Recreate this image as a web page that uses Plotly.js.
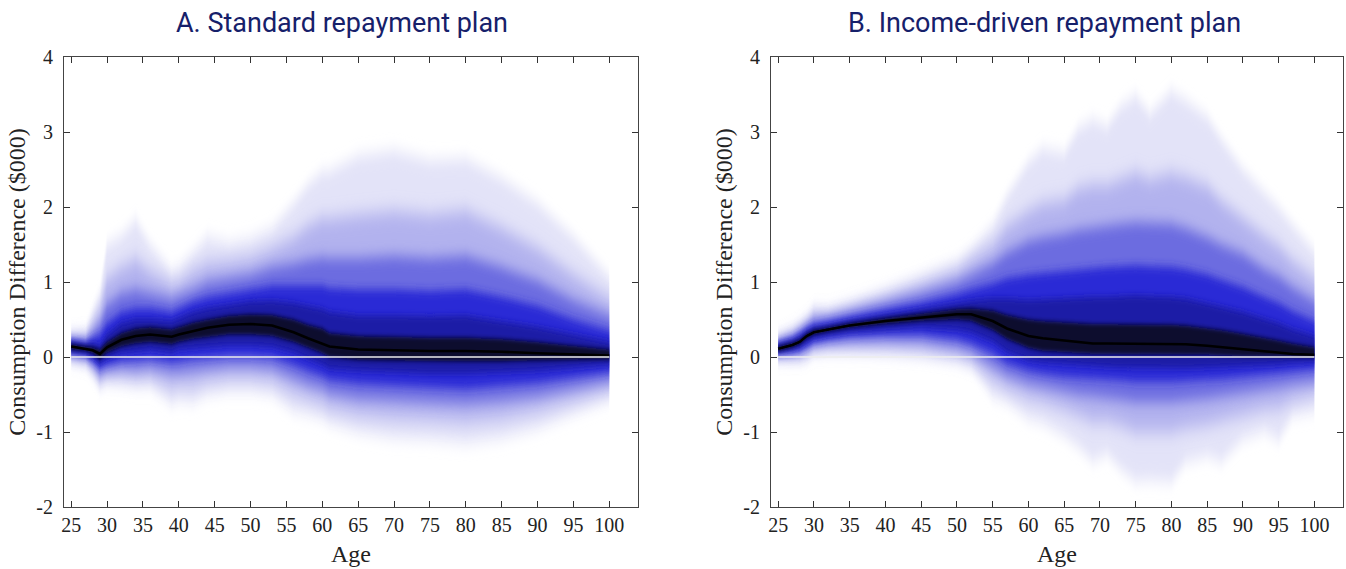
<!DOCTYPE html>
<html>
<head>
<meta charset="utf-8">
<script src="https://cdn.plot.ly/plotly-3.0.1.min.js"></script>
<style>
  html, body { margin: 0; padding: 0; background: #fff; }
  #chart { width: 1346px; height: 569px; }
</style>
</head>
<body>
<svg width="0" height="0" style="position:absolute">
  <defs>
    <filter id="vb0" x="-2%" y="-80%" width="104%" height="260%"><feGaussianBlur stdDeviation="0 2"/></filter>
    <filter id="vb1" x="-2%" y="-80%" width="104%" height="260%"><feGaussianBlur stdDeviation="0 3"/></filter>
    <filter id="vb2" x="-2%" y="-80%" width="104%" height="260%"><feGaussianBlur stdDeviation="0 4.5"/></filter>
    <filter id="vb3" x="-2%" y="-80%" width="104%" height="260%"><feGaussianBlur stdDeviation="0 7"/></filter>
    <filter id="vb4" x="-2%" y="-80%" width="104%" height="260%"><feGaussianBlur stdDeviation="0 9"/></filter>
    <filter id="vb5" x="-2%" y="-80%" width="104%" height="260%"><feGaussianBlur stdDeviation="0 8"/></filter>
  </defs>
</svg>
<div id="chart"></div>
<script>
// ---------- Panel A: Standard repayment plan ----------
const agesA = [25,27,28,29,30,32,34,36,39,40,42,44,47,50,53,56,58,60,61,65,70,75,80,85,90,95,100];
const medA  = [0.14,0.11,0.09,0.04,0.13,0.23,0.28,0.30,0.27,0.30,0.35,0.39,0.43,0.44,0.42,0.33,0.25,0.18,0.14,0.10,0.09,0.08,0.08,0.07,0.05,0.03,0.02];
const upA1  = [0.17,0.14,0.13,0.10,0.20,0.32,0.38,0.40,0.37,0.40,0.46,0.50,0.55,0.57,0.56,0.50,0.43,0.38,0.32,0.28,0.27,0.26,0.26,0.24,0.20,0.15,0.10];
const upA2  = [0.20,0.17,0.18,0.16,0.30,0.45,0.50,0.50,0.48,0.52,0.60,0.65,0.70,0.74,0.75,0.72,0.68,0.64,0.60,0.55,0.55,0.54,0.55,0.48,0.40,0.30,0.20];
const upA3  = [0.22,0.19,0.25,0.30,0.45,0.60,0.65,0.65,0.60,0.65,0.74,0.80,0.85,0.90,0.95,0.95,0.95,0.95,0.92,0.90,0.90,0.88,0.90,0.80,0.68,0.50,0.35];
const upA4  = [0.23,0.22,0.33,0.45,0.70,0.85,0.90,0.85,0.78,0.82,0.90,1.00,1.05,1.10,1.20,1.25,1.30,1.33,1.32,1.32,1.35,1.32,1.35,1.20,1.02,0.76,0.55];
const upA5  = [0.24,0.26,0.45,0.65,1.05,1.20,1.30,1.15,0.98,1.00,1.15,1.25,1.28,1.33,1.45,1.60,1.75,1.85,1.85,1.90,1.95,1.90,1.95,1.72,1.45,1.10,0.78];
const upA6  = [0.25,0.30,0.60,0.85,1.50,1.62,1.82,1.50,1.15,1.20,1.40,1.60,1.52,1.58,1.72,2.05,2.30,2.47,2.48,2.68,2.75,2.62,2.64,2.38,2.05,1.60,1.07];
const loA1  = [0.10,0.08,0.05,-0.02,0.06,0.14,0.18,0.20,0.17,0.20,0.24,0.27,0.30,0.30,0.28,0.20,0.12,0.05,0.00,-0.04,-0.05,-0.06,-0.06,-0.06,-0.05,-0.04,-0.03];
const loA2  = [0.07,0.05,0.00,-0.08,-0.02,0.05,0.08,0.10,0.06,0.10,0.12,0.14,0.16,0.16,0.14,0.06,-0.02,-0.10,-0.15,-0.18,-0.20,-0.22,-0.22,-0.20,-0.18,-0.14,-0.10];
const loA3  = [0.05,0.02,-0.05,-0.14,-0.10,-0.05,-0.04,-0.02,-0.06,-0.05,-0.02,0.00,0.02,0.02,0.00,-0.10,-0.18,-0.25,-0.30,-0.35,-0.38,-0.40,-0.42,-0.38,-0.34,-0.27,-0.20];
const loA4  = [0.03,0.00,-0.10,-0.22,-0.18,-0.15,-0.16,-0.14,-0.20,-0.20,-0.18,-0.15,-0.12,-0.12,-0.15,-0.28,-0.36,-0.42,-0.48,-0.55,-0.58,-0.60,-0.62,-0.58,-0.52,-0.42,-0.32];
const loA5  = [0.02,-0.03,-0.15,-0.30,-0.25,-0.25,-0.28,-0.27,-0.40,-0.38,-0.38,-0.32,-0.28,-0.28,-0.32,-0.48,-0.55,-0.62,-0.68,-0.77,-0.82,-0.84,-0.87,-0.82,-0.72,-0.58,-0.44];
const loA6  = [0.01,-0.06,-0.20,-0.37,-0.32,-0.35,-0.38,-0.38,-0.62,-0.58,-0.60,-0.50,-0.45,-0.45,-0.50,-0.72,-0.76,-0.82,-0.88,-1.00,-1.08,-1.10,-1.15,-1.08,-0.95,-0.75,-0.56];

// ---------- Panel B: Income-driven repayment plan ----------
const agesB = [25,27,28,29,30,32,35,40,45,50,52,55,57,60,62,65,67,69,71,73,75,77,80,82,85,87,90,93,95,97,100];
const medB  = [0.11,0.16,0.20,0.28,0.33,0.37,0.42,0.48,0.53,0.57,0.57,0.48,0.38,0.28,0.25,0.22,0.20,0.18,0.18,0.18,0.17,0.18,0.17,0.17,0.15,0.13,0.10,0.08,0.06,0.04,0.03];
const upB1  = [0.14,0.19,0.23,0.31,0.36,0.40,0.45,0.52,0.58,0.64,0.65,0.62,0.56,0.50,0.48,0.46,0.45,0.44,0.44,0.44,0.44,0.44,0.43,0.42,0.39,0.36,0.31,0.26,0.22,0.18,0.13];
const upB2  = [0.17,0.22,0.27,0.34,0.39,0.42,0.48,0.56,0.64,0.72,0.75,0.78,0.78,0.76,0.77,0.78,0.79,0.80,0.80,0.81,0.82,0.81,0.80,0.78,0.72,0.67,0.60,0.51,0.45,0.37,0.28];
const upB3  = [0.19,0.25,0.31,0.38,0.43,0.47,0.54,0.63,0.72,0.84,0.90,0.98,1.05,1.10,1.12,1.15,1.17,1.19,1.20,1.21,1.22,1.21,1.20,1.17,1.10,1.03,0.93,0.80,0.72,0.61,0.48];
const upB4  = [0.20,0.28,0.35,0.43,0.50,0.53,0.60,0.72,0.85,1.00,1.10,1.25,1.40,1.55,1.60,1.65,1.70,1.73,1.75,1.78,1.80,1.79,1.78,1.72,1.60,1.50,1.38,1.18,1.08,0.93,0.75];
const upB5  = [0.21,0.30,0.37,0.45,0.56,0.56,0.65,0.80,0.97,1.15,1.30,1.50,1.75,1.95,2.05,2.10,2.25,2.30,2.30,2.38,2.45,2.38,2.45,2.40,2.28,2.08,1.85,1.62,1.48,1.28,1.05];
const upB6  = [0.22,0.31,0.38,0.47,0.62,0.58,0.67,0.87,1.07,1.27,1.44,1.76,2.15,2.60,2.78,2.72,3.05,3.16,3.08,3.35,3.48,3.25,3.54,3.42,3.20,2.90,2.50,2.20,1.99,1.75,1.41];
const loB1  = [0.08,0.13,0.17,0.25,0.30,0.34,0.39,0.44,0.48,0.50,0.48,0.36,0.24,0.12,0.08,0.06,0.05,0.04,0.04,0.04,0.03,0.04,0.03,0.03,0.03,0.02,0.01,0.01,0.00,0.00,0.00];
const loB2  = [0.06,0.10,0.13,0.19,0.25,0.29,0.33,0.37,0.40,0.37,0.33,0.21,0.07,-0.04,-0.07,-0.09,-0.11,-0.12,-0.13,-0.14,-0.15,-0.15,-0.15,-0.15,-0.14,-0.13,-0.12,-0.11,-0.10,-0.08,-0.07];
const loB3  = [0.05,0.07,0.09,0.14,0.20,0.24,0.28,0.30,0.30,0.24,0.18,0.05,-0.08,-0.18,-0.22,-0.26,-0.28,-0.29,-0.30,-0.31,-0.33,-0.33,-0.33,-0.32,-0.30,-0.29,-0.27,-0.24,-0.22,-0.19,-0.16];
const loB4  = [0.04,0.05,0.06,0.10,0.16,0.19,0.21,0.22,0.21,0.13,0.07,-0.12,-0.24,-0.35,-0.40,-0.46,-0.50,-0.52,-0.54,-0.57,-0.60,-0.60,-0.60,-0.58,-0.55,-0.52,-0.48,-0.43,-0.40,-0.36,-0.32];
const loB5  = [0.03,0.03,0.03,0.06,0.12,0.14,0.14,0.13,0.10,0.02,-0.05,-0.30,-0.42,-0.55,-0.60,-0.70,-0.78,-0.86,-0.86,-0.92,-1.00,-1.00,-1.00,-0.95,-0.90,-0.85,-0.78,-0.70,-0.68,-0.58,-0.50];
const loB6  = [0.02,0.00,0.00,0.02,0.10,0.11,0.10,0.08,0.04,-0.02,-0.10,-0.52,-0.60,-0.82,-0.88,-1.05,-1.20,-1.38,-1.30,-1.50,-1.65,-1.64,-1.66,-1.40,-1.32,-1.39,-1.10,-0.99,-1.10,-0.78,-0.72];

// ---------- Axes / labels ----------
const xTickVals = [25,30,35,40,45,50,55,60,65,70,75,80,85,90,95,100];
const yTickVals = [-2,-1,0,1,2,3,4];
const yTickText = ['-2','-1','0','1','2','3','4'];
const panelTitles = ['A. Standard repayment plan', 'B. Income-driven repayment plan'];
const xTitle = 'Age';
const yTitle = 'Consumption Difference ($000)';

// band colours, inner (near median) -> outer (faint edge)
const bandColors = ['#08082e', '#1a1aa6', '#2b2bd6', '#6c6ce0', '#b2b2ee', '#e3e3f8'];
const nBands = bandColors.length;

function panelTraces(ages, med, ups, los, xa, ya) {
  const tr = [];
  const rev = ages.slice().reverse();
  for (let k = ups.length - 1; k >= 0; k--) {
    tr.push({
      type: 'scatter', mode: 'lines', xaxis: xa, yaxis: ya,
      x: ages.concat(rev),
      y: ups[k].concat(los[k].slice().reverse()),
      fill: 'toself', fillcolor: bandColors[k],
      line: {width: 0}, hoverinfo: 'skip', showlegend: false
    });
  }
  tr.push({
    type: 'scatter', mode: 'lines', xaxis: xa, yaxis: ya,
    x: ages, y: med, line: {color: '#000000', width: 2.6},
    hoverinfo: 'skip', showlegend: false
  });
  return tr;
}

const data = []
  .concat(panelTraces(agesA, medA, [upA1,upA2,upA3,upA4,upA5,upA6], [loA1,loA2,loA3,loA4,loA5,loA6], 'x', 'y'))
  .concat(panelTraces(agesB, medB, [upB1,upB2,upB3,upB4,upB5,upB6], [loB1,loB2,loB3,loB4,loB5,loB6], 'x2', 'y2'));

const serif = 'Liberation Serif';
function xAxis(domain, anchor) {
  return {
    domain: domain, anchor: anchor, range: [24, 104],
    tickvals: xTickVals, ticks: 'inside', ticklen: 6, tickcolor: '#333',
    showline: true, mirror: 'ticks', linecolor: '#444', linewidth: 1,
    showgrid: false, zeroline: false,
    tickfont: {family: serif, size: 20, color: '#222'},
    title: {text: xTitle, font: {family: serif, size: 24, color: '#222'}, standoff: 10}
  };
}
function yAxis(anchor) {
  return {
    anchor: anchor, range: [-2, 4],
    tickvals: yTickVals, ticktext: yTickText, ticks: 'inside', ticklen: 6, tickcolor: '#333',
    showline: true, mirror: 'ticks', linecolor: '#444', linewidth: 1,
    showgrid: false, zeroline: false, ticklabelstandoff: 6,
    tickfont: {family: serif, size: 20, color: '#222'},
    title: {text: yTitle, font: {family: serif, size: 24, color: '#222'}, standoff: 3}
  };
}

const plotL = 64, plotR = 3, W = 1346;
const innerW = W - plotL - plotR;
const layout = {
  width: 1346, height: 569,
  margin: {l: plotL, r: plotR, t: 57, b: 62},
  paper_bgcolor: '#ffffff', plot_bgcolor: '#ffffff',
  showlegend: false,
  xaxis: xAxis([0, (638 - plotL) / innerW], 'y'),
  yaxis: yAxis('x'),
  xaxis2: xAxis([(771 - plotL) / innerW, 1], 'y2'),
  yaxis2: yAxis('x2'),
  shapes: [
    {type: 'line', xref: 'x', yref: 'y', x0: agesA[0], x1: agesA[agesA.length - 1], y0: 0, y1: 0,
     line: {color: '#ececec', width: 1.4}, layer: 'above'},
    {type: 'line', xref: 'x2', yref: 'y2', x0: agesB[0], x1: agesB[agesB.length - 1], y0: 0, y1: 0,
     line: {color: '#ececec', width: 1.4}, layer: 'above'}
  ],
  annotations: [
    {text: panelTitles[0], xref: 'paper', yref: 'paper', x: (342 - plotL) / innerW, y: 1,
     yshift: 34, xanchor: 'center', yanchor: 'middle', showarrow: false,
     font: {family: 'Roboto', size: 27, color: '#16206a'}},
    {text: panelTitles[1], xref: 'paper', yref: 'paper', x: (1044 - plotL) / innerW, y: 1,
     yshift: 34, xanchor: 'center', yanchor: 'middle', showarrow: false,
     font: {family: 'Roboto', size: 27, color: '#16206a'}}
  ]
};

Plotly.newPlot('chart', data, layout, {staticPlot: true, displayModeBar: false}).then(function () {
  // soften band edges vertically; each band level gets its own blur width
  const traces = document.querySelectorAll('#chart .scatterlayer g.trace');
  traces.forEach(function (g, i) {
    const j = i % (nBands + 1);
    if (j >= nBands) return;
    const k = nBands - 1 - j;
    g.querySelectorAll('path.js-fill').forEach(function (p) {
      p.setAttribute('filter', 'url(#vb' + k + ')');
      p.style.filter = 'url(#vb' + k + ')';
    });
  });
});
</script>
</body>
</html>
